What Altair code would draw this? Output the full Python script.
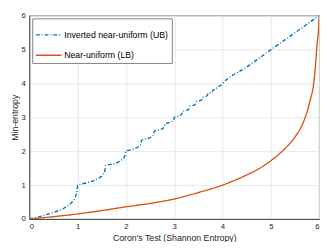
import altair as alt
import pandas as pd

ub_name = "Inverted near-uniform (UB)"
lb_name = "Near-uniform (LB)"

ub_x = [0.0, 0.15, 0.35, 0.55, 0.74, 0.87, 0.94, 0.97, 0.99, 1.0,
        1.2, 1.39, 1.52, 1.56, 1.585,
        1.78, 1.91, 1.96, 1.98, 2.0,
        2.16, 2.274, 2.312, 2.322,
        2.454, 2.546, 2.577, 2.585,
        2.696, 2.774, 2.800, 2.807,
        2.904, 2.971, 2.994, 3.0,
        3.085, 3.145, 3.165, 3.170,
        3.246, 3.299, 3.317, 3.322,
        3.390, 3.438, 3.455, 3.459,
        3.522, 3.566, 3.585,
        3.642, 3.683, 3.700,
        3.754, 3.791, 3.807,
        3.857, 3.907,
        3.953, 4.0,
        4.5, 5.0, 5.5, 6.0]
ub_y = [0.0, 0.045, 0.13, 0.22, 0.34, 0.48, 0.60, 0.72, 0.85, 1.0,
        1.07, 1.17, 1.30, 1.40, 1.585,
        1.64, 1.74, 1.81, 1.88, 2.0,
        2.065, 2.145, 2.22, 2.322,
        2.375, 2.440, 2.50, 2.585,
        2.629, 2.685, 2.735, 2.807,
        2.846, 2.894, 2.94, 3.0,
        3.034, 3.077, 3.115, 3.170,
        3.200, 3.238, 3.275, 3.322,
        3.349, 3.384, 3.418, 3.459,
        3.484, 3.516, 3.585,
        3.608, 3.637, 3.700,
        3.721, 3.748, 3.807,
        3.827, 3.907,
        3.926, 4.0,
        4.48, 4.99, 5.49, 6.0]

lb_x = [0.0, 0.5, 1.0, 1.5, 2.0, 2.5, 3.0, 3.5, 4.0, 4.5, 4.75, 5.0,
        5.25, 5.5, 5.65, 5.79, 5.91, 5.96, 5.99, 6.0]
lb_y = [0.0, 0.07, 0.15, 0.25, 0.36, 0.46, 0.59, 0.78, 1.0, 1.3, 1.48, 1.72,
        2.02, 2.42, 2.78, 3.37, 4.29, 5.2, 5.65, 6.0]

ticks = [0, 1, 2, 3, 4, 5, 6]

rows = []
for i, (x, y) in enumerate(zip(ub_x, ub_y)):
    rows.append({"series": ub_name, "x": x, "y": y, "i": i})
for i, (x, y) in enumerate(zip(lb_x, lb_y)):
    rows.append({"series": lb_name, "x": x, "y": y, "i": i})
df = pd.DataFrame(rows)

font = "Liberation Sans"

chart = alt.Chart(df).mark_line(strokeWidth=1.4, clip=True, interpolate="monotone").encode(
    x=alt.X("x:Q", scale=alt.Scale(domain=[0, 6], nice=False),
            axis=alt.Axis(values=ticks, title="Coron's Test (Shannon Entropy)", format="d")),
    y=alt.Y("y:Q", scale=alt.Scale(domain=[0, 6], nice=False),
            axis=alt.Axis(values=ticks, title="Min-entropy", format="d")),
    color=alt.Color("series:N",
                    scale=alt.Scale(domain=[ub_name, lb_name], range=["#0072BD", "#D95319"]),
                    legend=alt.Legend(title=None, orient="top-left", offset=3)),
    strokeDash=alt.StrokeDash("series:N",
                              scale=alt.Scale(domain=[ub_name, lb_name], range=[[4, 2, 1, 2], [1, 0]]),
                              legend=alt.Legend(title=None, orient="top-left", offset=3)),
    order="i:Q",
).properties(
    width=299, height=210,
    autosize=alt.AutoSizeParams(type="none"),
    padding={"left": 22, "top": 4, "right": 5, "bottom": 20},
).configure_view(
    stroke="#262626", strokeWidth=0.8
).configure_axis(
    labelFont=font, titleFont=font, labelFontSize=8, titleFontSize=9,
    labelColor="#262626", titleColor="#262626", titleFontWeight="normal",
    domainColor="#262626", domainWidth=0.8, ticks=False, labelPadding=4,
    gridColor="#e6e6e6", gridWidth=1,
).configure_axisX(
    titlePadding=3
).configure_axisY(
    titlePadding=2
).configure_legend(
    labelFont=font, labelFontSize=9, labelColor="#000000",
    strokeColor="#808080", fillColor="#ffffff", padding=3, rowPadding=2,
    symbolType="stroke", symbolSize=700, symbolStrokeWidth=1.4, cornerRadius=0,
    labelOffset=2,
)

chart.save("out.html", embed_options={"renderer": "svg", "actions": False})
